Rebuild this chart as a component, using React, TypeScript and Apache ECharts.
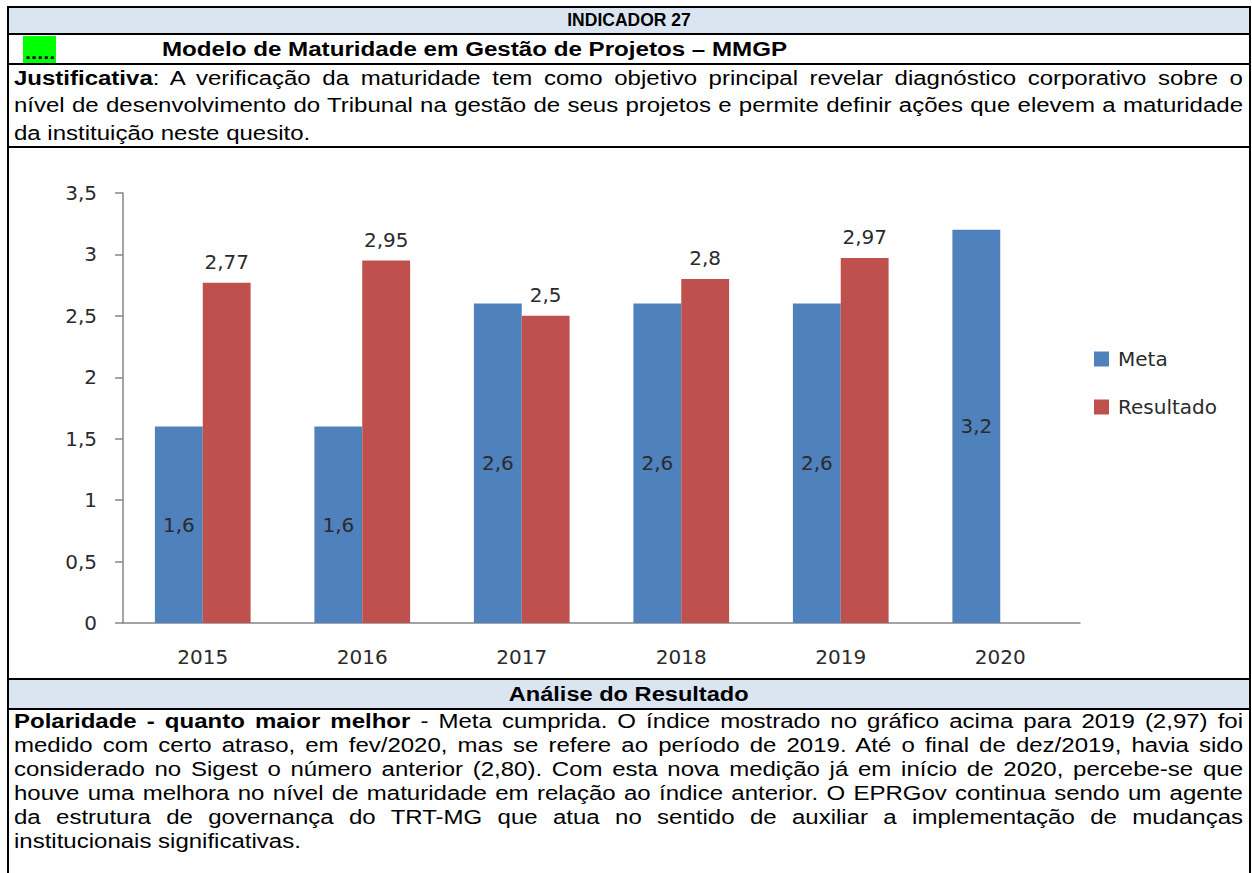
import React, { useEffect, useRef } from "react";
import * as echarts from "echarts";

const categories = ["2015", "2016", "2017", "2018", "2019", "2020"];
const metaValues = [1.6, 1.6, 2.6, 2.6, 2.6, 3.2];
const resultadoValues: (number | null)[] = [2.77, 2.95, 2.5, 2.8, 2.97, null];
const yTicks = { min: 0, max: 3.5, interval: 0.5 };

const titleText = "INDICADOR 27";
const subtitleText = "Modelo de Maturidade em Gestão de Projetos – MMGP";
const justBold = "Justificativa";
const justLines = [
  ": A verificação da maturidade tem como objetivo principal revelar diagnóstico corporativo sobre o",
  "nível de desenvolvimento do Tribunal na gestão de seus projetos e permite definir ações que elevem a maturidade",
  "da instituição neste quesito.",
];
const analiseTitle = "Análise do Resultado";
const analiseBold = "Polaridade - quanto maior melhor";
const analiseLines = [
  " - Meta cumprida. O índice mostrado no gráfico acima para 2019 (2,97) foi",
  "medido com certo atraso, em fev/2020, mas se refere ao período de 2019. Até o final de dez/2019, havia sido",
  "considerado no Sigest o número anterior (2,80). Com esta nova medição já em início de 2020, percebe-se que",
  "houve uma melhora no nível de maturidade em relação ao índice anterior. O EPRGov continua sendo um agente",
  "da estrutura de governança do TRT-MG que atua no sentido de auxiliar a implementação de mudanças",
  "institucionais significativas.",
];

const comma = (v: number) => String(v).replace(".", ",");

const FONT = "'Liberation Sans', Arial, sans-serif";
const CFONT = "'DejaVu Sans', sans-serif";
const LIGHT = "#DBE5F1";
const SX = 1.2;

function Chart() {
  const ref = useRef<HTMLDivElement>(null);
  useEffect(() => {
    if (!ref.current) return;
    const chart = echarts.init(ref.current, null, { renderer: "svg" });
    const lbl = { fontFamily: CFONT, fontSize: 20, color: "#2b2b2b" };
    chart.setOption({
      animation: false,
      textStyle: { fontFamily: CFONT },
      grid: { left: 114, right: 169, top: 45, bottom: 55 },
      legend: {
        orient: "vertical",
        left: 1085,
        top: 201,
        padding: 0,
        itemWidth: 15,
        itemHeight: 15,
        itemGap: 28,
        icon: "rect",
        textStyle: { ...lbl, padding: [0, 0, 0, 4] },
        data: ["Meta", "Resultado"],
      },
      xAxis: {
        type: "category",
        data: categories,
        axisLine: { lineStyle: { color: "#868686", width: 1.5 } },
        axisTick: { length: 7, lineStyle: { color: "#868686", width: 1.5 } },
        axisLabel: { ...lbl, margin: 24 },
      },
      yAxis: {
        type: "value",
        min: yTicks.min,
        max: yTicks.max,
        interval: yTicks.interval,
        splitLine: { show: false },
        axisLine: { show: true, lineStyle: { color: "#868686", width: 1.5 } },
        axisTick: { show: true, length: 8, lineStyle: { color: "#868686", width: 1.5 } },
        axisLabel: { ...lbl, margin: 26, formatter: (v: number) => comma(v) },
      },
      series: [
        {
          name: "Meta",
          type: "bar",
          data: metaValues,
          barGap: "0%",
          barCategoryGap: "40%",
          itemStyle: { color: "#4F81BD" },
          label: { show: true, position: "inside", ...lbl, formatter: (p: any) => comma(p.value) },
        },
        {
          name: "Resultado",
          type: "bar",
          data: resultadoValues,
          barGap: "0%",
          barCategoryGap: "40%",
          itemStyle: { color: "#C0504D" },
          label: { show: true, position: "top", distance: 11, ...lbl, formatter: (p: any) => comma(p.value) },
        },
      ],
    });
    return () => chart.dispose();
  }, []);
  return <div ref={ref} style={{ width: 1240, height: 530 }} />;
}

function Para({ bold, lines, lh, top }: { bold: string; lines: string[]; lh: number; top: number }) {
  const W = 1229 / SX;
  return (
    <div
      style={{
        position: "absolute",
        left: 5,
        top,
        width: W,
        transform: `scaleX(${SX})`,
        transformOrigin: "0 0",
        fontSize: 20,
        lineHeight: `${lh}px`,
      }}
    >
      {lines.map((t, i) => (
        <div
          key={i}
          style={{
            textAlign: i < lines.length - 1 ? "justify" : "left",
            textAlignLast: i < lines.length - 1 ? "justify" : "left",
            whiteSpace: "nowrap",
          }}
        >
          {i === 0 ? <b>{bold}</b> : null}
          {t}
        </div>
      ))}
    </div>
  );
}

export default function App() {
  const row = (top: number, height: number, bg: string, extra: any = {}) => ({
    position: "absolute" as const,
    left: 7,
    top,
    width: 1244,
    height,
    boxSizing: "border-box" as const,
    borderLeft: "2px solid #000",
    borderRight: "2px solid #000",
    background: bg,
    ...extra,
  });
  const scaled = (s: number, origin = "0 0") => ({
    display: "inline-block",
    transform: `scaleX(${s})`,
    transformOrigin: origin,
  });
  return (
    <div
      style={{
        position: "absolute",
        left: 0,
        top: 0,
        width: 1252,
        height: 873,
        overflow: "hidden",
        background: "#fff",
        fontFamily: FONT,
        color: "#000",
      }}
    >
      <div style={row(6, 29, LIGHT, { borderTop: "2px solid #000", borderBottom: "2px solid #000" })}>
        <div style={{ textAlign: "center", fontWeight: "bold", fontSize: 17.5, lineHeight: "25px" }}>{titleText}</div>
      </div>
      <div style={row(35, 30, "#fff", { borderBottom: "2px solid #000" })}>
        <div
          style={{
            position: "absolute",
            left: 14,
            top: 1,
            width: 33,
            height: 27,
            background: "#00FF00",
            fontWeight: "bold",
            fontSize: 19,
            lineHeight: "33px",
            overflow: "hidden",
            paddingLeft: 2,
            boxSizing: "border-box",
          }}
        >
          <span style={scaled(1.15)}>.....</span>
        </div>
        <div style={{ position: "absolute", left: 153, top: 0, fontWeight: "bold", fontSize: 20, lineHeight: "28px", whiteSpace: "nowrap" }}>
          <span style={scaled(1.207)}>{subtitleText}</span>
        </div>
      </div>
      <div style={row(65, 83, "#fff", { borderBottom: "2px solid #000" })}>
        <Para bold={justBold} lines={justLines} lh={27.5} top={-0.5} />
      </div>
      <div style={row(148, 532, "#fff", { borderBottom: "2px solid #000" })}>
        <Chart />
      </div>
      <div style={row(680, 30, LIGHT, { borderBottom: "2px solid #000" })}>
        <div style={{ textAlign: "center", fontWeight: "bold", fontSize: 20, lineHeight: "28px" }}>
          <span style={scaled(1.18, "50% 50%")}>{analiseTitle}</span>
        </div>
      </div>
      <div style={row(710, 200, "#fff")}>
        <Para bold={analiseBold} lines={analiseLines} lh={24} top={-1} />
      </div>
    </div>
  );
}
